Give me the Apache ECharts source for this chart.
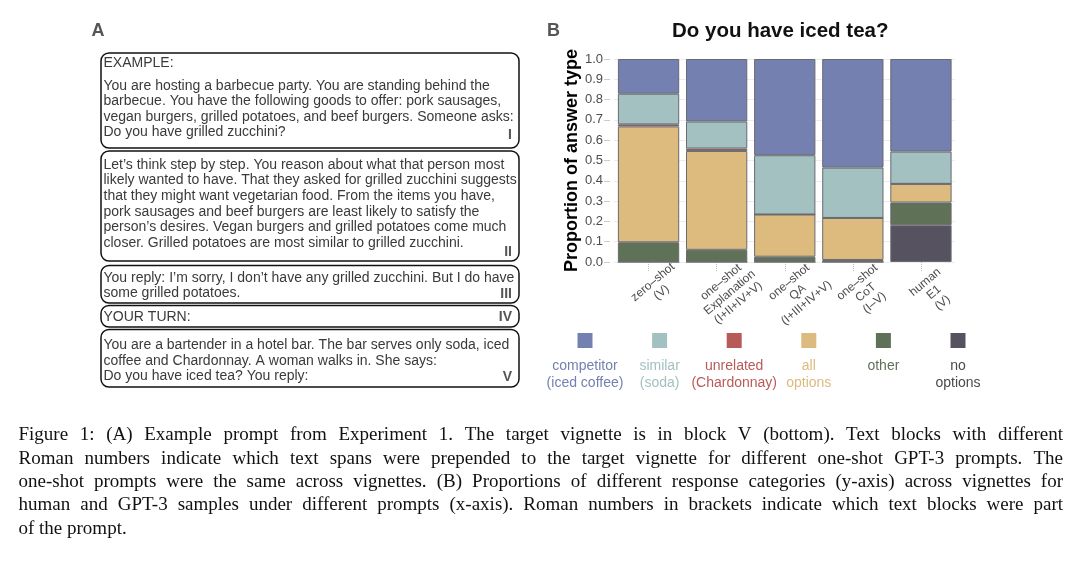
<!DOCTYPE html>
<html>
<head>
<meta charset="utf-8">
<script src="https://cdn.jsdelivr.net/npm/echarts/dist/echarts.min.js"></script>
<style>
  html, body { margin: 0; padding: 0; background: #fff; }
  #main { width: 1080px; height: 564px; }
</style>
</head>
<body>
<div id="main"></div>
<script>
// ---------------- DATA ----------------
const categories = [
  'zero–shot\n(V)',
  'one–shot\nExplanation\n(I+II+IV+V)',
  'one–shot\nQA\n(I+III+IV+V)',
  'one–shot\nCoT\n(I–V)',
  'human\nE1\n(V)'
];
// stacked bottom -> top
const noOptions  = [0,     0,     0,     0,     0.181];
const other      = [0.097, 0.060, 0.026, 0.010, 0.112];
const allOptions = [0.571, 0.487, 0.208, 0.207, 0.092];
const unrelated  = [0.010, 0.012, 0,     0,     0];
const similar    = [0.151, 0.133, 0.292, 0.248, 0.159];
const competitor = [0.171, 0.308, 0.474, 0.535, 0.456];

const seriesNames = ['no options', 'other', 'all options', 'unrelated', 'similar', 'competitor'];
const seriesData  = [noOptions, other, allOptions, unrelated, similar, competitor];
const seriesColors = ['#56525F', '#5F7258', '#DDBB7E', '#B85A58', '#A2C1C0', '#7480B0'];

// legend (left -> right)
const legendKeys   = ['competitor', 'similar', 'unrelated', 'all options', 'other', 'no options'];
const legendLabels = [
  ['competitor', '(iced coffee)'],
  ['similar', '(soda)'],
  ['unrelated', '(Chardonnay)'],
  ['all', 'options'],
  ['other'],
  ['no', 'options']
];

const chartTitle = 'Do you have iced tea?';
const yAxisTitle = 'Proportion of answer type';

// panel A text blocks
const block1 = ['EXAMPLE:',
  'You are hosting a barbecue party. You are standing behind the',
  'barbecue. You have the following goods to offer: pork sausages,',
  'vegan burgers, grilled potatoes, and beef burgers. Someone asks:',
  'Do you have grilled zucchini?'];
const block2 = ['Let’s think step by step. You reason about what that person most',
  'likely wanted to have. That they asked for grilled zucchini suggests',
  'that they might want vegetarian food. From the items you have,',
  'pork sausages and beef burgers are least likely to satisfy the',
  'person’s desires. Vegan burgers and grilled potatoes come much',
  'closer. Grilled potatoes are most similar to grilled zucchini.'];
const block3 = ['You reply: I’m sorry, I don’t have any grilled zucchini. But I do have',
  'some grilled potatoes.'];
const block4 = ['YOUR TURN:'];
const block5 = ['You are a bartender in a hotel bar. The bar serves only soda, iced',
  'coffee and Chardonnay. A woman walks in. She says:',
  'Do you have iced tea? You reply:'];
const blockNumerals = ['I', 'II', 'III', 'IV', 'V'];

const captionLines = [
  'Figure 1: (A) Example prompt from Experiment 1.  The target vignette is in block V (bottom).  Text blocks with different',
  'Roman numbers indicate which text spans were prepended to the target vignette for different one-shot GPT-3 prompts.  The',
  'one-shot prompts were the same across vignettes. (B) Proportions of different response categories (y-axis) across vignettes for',
  'human and GPT-3 samples under different prompts (x-axis). Roman numbers in brackets indicate which text blocks were part',
  'of the prompt.'
];

// ---------------- LAYOUT / STYLE ----------------
const SANS = '"Liberation Sans", Arial, Helvetica, sans-serif';
const SERIF = '"Liberation Serif", "Times New Roman", serif';
const blocks = [block1, block2, block3, block4, block5];
const blockRects = [
  [101, 53, 418, 95],
  [101, 151, 418, 110],
  [101, 265.5, 418, 37.5],
  [101, 305.5, 418, 21.5],
  [101, 329.5, 418, 57.5]
];
const blockLineY = [
  [63.3, 85.7, 101.3, 116.9, 132.5],
  [165, 180.6, 196.2, 211.8, 227.4, 243],
  [278.3, 293.6],
  [316.7],
  [345, 360.7, 376.5]
];
const numeralY = [135, 252, 294, 317.5, 377];

const graphics = [];
// panel labels
graphics.push({ type: 'text', style: { text: 'A', x: 98, y: 31.5, font: 'bold 18px ' + SANS, fill: '#555', textAlign: 'center', textVerticalAlign: 'middle' } });
graphics.push({ type: 'text', style: { text: 'B', x: 553.5, y: 31, font: 'bold 18px ' + SANS, fill: '#555', textAlign: 'center', textVerticalAlign: 'middle' } });

blocks.forEach((lines, i) => {
  const r = blockRects[i];
  graphics.push({ type: 'rect', shape: { x: r[0], y: r[1], width: r[2], height: r[3], r: 8 },
    style: { fill: 'none', stroke: '#111', lineWidth: 1.5 } });
  lines.forEach((t, j) => {
    graphics.push({ type: 'text', style: { text: t, x: 103.5, y: blockLineY[i][j], font: '14px ' + SANS, fill: '#3a3a3a', textAlign: 'left', textVerticalAlign: 'middle' } });
  });
  graphics.push({ type: 'text', style: { text: blockNumerals[i], x: 512, y: numeralY[i], font: 'bold 14px ' + SANS, fill: '#555', textAlign: 'right', textVerticalAlign: 'middle' } });
});

// legend (custom: square above two-line label)
legendKeys.forEach((k, i) => {
  const idx = seriesNames.indexOf(k);
  const cx = 585 + i * 74.6;
  const col = seriesColors[idx];
  graphics.push({ type: 'rect', shape: { x: cx - 7.5, y: 333, width: 15, height: 15 }, style: { fill: col } });
  const txtCol = k === 'no options' ? '#4a4a4a' : col;
  legendLabels[i].forEach((t, j) => {
    graphics.push({ type: 'text', style: { text: t, x: cx, y: 366 + j * 17, font: '14px ' + SANS, fill: txtCol, textAlign: 'center', textVerticalAlign: 'middle' } });
  });
});

// caption, justified
(function () {
  const cvs = document.createElement('canvas');
  const ctx = cvs.getContext('2d');
  const font = '19px ' + SERIF;
  ctx.font = font;
  const left = 18.5, right = 1063;
  captionLines.forEach((line, i) => {
    const y = 435.5 + i * 23.3;
    const words = line.split(/\s+/);
    const widths = words.map(w => ctx.measureText(w).width);
    const total = widths.reduce((a, b) => a + b, 0);
    const last = i === captionLines.length - 1;
    const gap = last ? ctx.measureText(' ').width : (right - left - total) / (words.length - 1);
    let x = left;
    words.forEach((w, j) => {
      graphics.push({ type: 'text', style: { text: w, x: x, y: y, font: font, fill: '#111', textAlign: 'left', textVerticalAlign: 'middle' } });
      x += widths[j] + gap;
    });
  });
})();

// ---------------- CHART ----------------
const chart = echarts.init(document.getElementById('main'), null, { renderer: 'canvas' });
const option = {
  animation: false,
  backgroundColor: '#fff',
  textStyle: { fontFamily: SANS },
  title: {
    text: chartTitle,
    left: 672, top: 20.5, padding: 0,
    textStyle: { fontFamily: SANS, fontSize: 20.5, fontWeight: 'bold', color: '#111' }
  },
  grid: { left: 614.5, right: 125, top: 59, bottom: 302, outerBoundsMode: 'none', containLabel: false },
  xAxis: {
    type: 'category',
    data: categories,
    axisLine: { show: false },
    axisTick: { show: true, alignWithLabel: true, length: 9, lineStyle: { color: '#bbb', type: 'dotted' } },
    axisLabel: {
      interval: 0, rotate: 40, align: 'center', verticalAlign: 'top', margin: 15,
      fontSize: 12, lineHeight: 13.5, color: '#4d4d4d', fontFamily: SANS, hideOverlap: false
    },
    splitLine: { show: false }
  },
  yAxis: {
    type: 'value', min: 0, max: 1, interval: 0.1,
    offset: 5,
    name: yAxisTitle, nameLocation: 'middle', nameGap: 28.5, nameRotate: 90,
    nameTextStyle: { fontFamily: SANS, fontSize: 18, fontWeight: 'bold', color: '#000' },
    axisLine: { show: false },
    axisTick: { show: true, length: 5, lineStyle: { color: '#999', type: 'dotted' } },
    axisLabel: { formatter: v => v.toFixed(1), fontSize: 13, color: '#4d4d4d', margin: 6.5, fontFamily: SANS },
    splitLine: { show: true, lineStyle: { color: '#d8d8d8', type: 'dotted', width: 1 } }
  },
  series: seriesNames.map((n, i) => ({
    name: n,
    type: 'bar',
    stack: 'total',
    data: seriesData[i],
    barCategoryGap: '10%',
    itemStyle: { color: seriesColors[i], borderColor: '#6a6a70', borderWidth: 1 },
    emphasis: { disabled: true }
  })),
  graphic: { elements: graphics }
};
chart.setOption(option);
</script>
</body>
</html>
